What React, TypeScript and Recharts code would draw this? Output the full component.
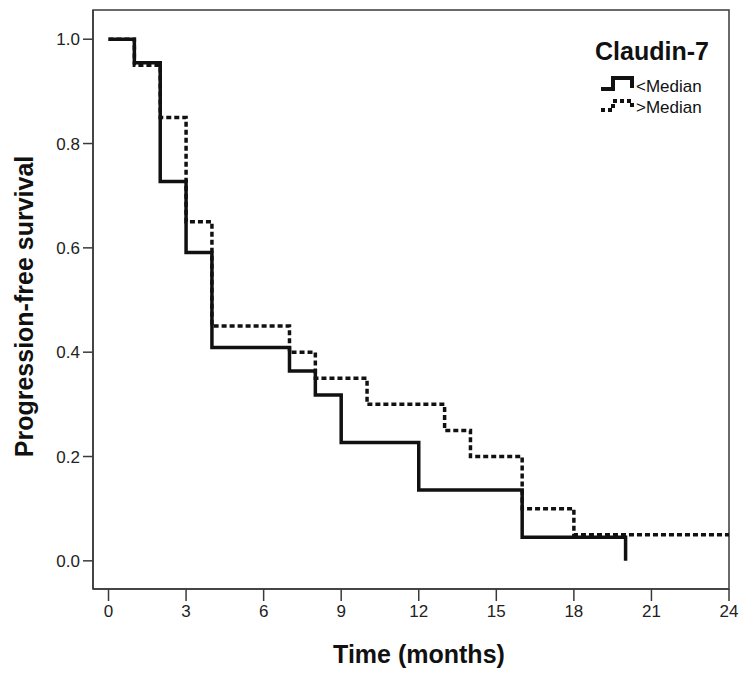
import React from 'react';
import { LineChart, Line, XAxis, YAxis, Legend, ReferenceArea } from 'recharts';

// Kaplan-Meier steps
const lowTimes = [0, 1, 2, 3, 4, 7, 8, 9, 12, 16, 20];
const lowSurvival = [1.0, 0.955, 0.727, 0.591, 0.409, 0.364, 0.318, 0.227, 0.136, 0.045, 0.0];
const highTimes = [0, 1, 2, 3, 4, 7, 8, 10, 13, 14, 16, 18, 24];
const highSurvival = [1.0, 0.95, 0.85, 0.65, 0.45, 0.4, 0.35, 0.3, 0.25, 0.2, 0.1, 0.05, 0.05];

const seriesNames = ['<Median', '>Median'];
const legendTitle = 'Claudin-7';
const xTicks = [0, 3, 6, 9, 12, 15, 18, 21, 24];
const yTicks = [0, 0.2, 0.4, 0.6, 0.8, 1.0];

const lowData = lowTimes.map((t, i) => ({ t, s: lowSurvival[i] }));
const highData = highTimes.map((t, i) => ({ t, s: highSurvival[i] }));

const FONT = 'Arial, "Liberation Sans", Helvetica, sans-serif';
const INK = '#111';
const AXIS = '#3a3a3a';

const renderLegend = () => (
    <svg width={140} height={95} style={{ overflow: 'visible', fontFamily: FONT }}>
        <text x={5} y={30} fontSize={25} fontWeight="bold" fill={INK}>{legendTitle}</text>
        <path d="M11,59 H23 V48 H42 V58" stroke={INK} strokeWidth={4} fill="none" />
        <text x={46} y={62} fontSize={17} fill={INK}>{seriesNames[0]}</text>
        <path d="M11,80 H23 V71 H42 V79" stroke={INK} strokeWidth={4} strokeDasharray="4 3" fill="none" />
        <text x={46} y={83} fontSize={17} fill={INK}>{seriesNames[1]}</text>
    </svg>
);

const YTitle = (props: any) => {
    const { viewBox } = props;
    const x = viewBox.x + 24;
    const y = viewBox.y + viewBox.height / 2 + 7;
    return (
        <text x={x} y={y} transform={`rotate(-90, ${x}, ${y})`} textAnchor="middle" dominantBaseline="central"
            fontSize={25} fontWeight="bold" fill={INK} fontFamily={FONT}>
            Progression-free survival
        </text>
    );
};

const XTitle = (props: any) => {
    const { viewBox } = props;
    return (
        <text x={viewBox.x + viewBox.width / 2 + 8} y={663} textAnchor="middle"
            fontSize={25} fontWeight="bold" fill={INK} fontFamily={FONT}>
            Time (months)
        </text>
    );
};

const App: React.FC = () => {
    return (
        <div style={{ position: 'absolute', left: 0, top: 0, background: '#fff' }}>
            <LineChart width={746} height={677} margin={{ top: 10, right: 17, left: 0, bottom: 0 }} style={{ fontFamily: FONT }}>
                <XAxis
                    dataKey="t"
                    type="number"
                    domain={[-0.6, 24]}
                    allowDataOverflow
                    ticks={xTicks}
                    interval={0}
                    height={88}
                    tickSize={12}
                    tickMargin={4}
                    stroke={AXIS}
                    axisLine={{ stroke: AXIS, strokeWidth: 1.5 }}
                    tickLine={{ stroke: AXIS, strokeWidth: 1.5 }}
                    tick={{ fill: '#222', fontSize: 17 }}
                    label={{ content: XTitle }}
                />
                <YAxis
                    type="number"
                    domain={[-0.054, 1.056]}
                    allowDataOverflow
                    ticks={yTicks}
                    interval={0}
                    width={93}
                    tickSize={10}
                    tickMargin={3}
                    tickFormatter={(v: number) => v.toFixed(1)}
                    stroke={AXIS}
                    axisLine={{ stroke: AXIS, strokeWidth: 1.5 }}
                    tickLine={{ stroke: AXIS, strokeWidth: 1.5 }}
                    tick={{ fill: '#222', fontSize: 17 }}
                    label={{ content: YTitle }}
                />
                <ReferenceArea x1={-0.6} x2={24} y1={-0.054} y2={1.056} fill="none" stroke={AXIS} strokeWidth={1.5} ifOverflow="visible" />
                <Legend layout="vertical" align="center" verticalAlign="middle" content={renderLegend}
                    wrapperStyle={{ left: 590, top: 30, width: 140, height: 95 }} />
                <Line data={highData} dataKey="s" name={seriesNames[1]} type="stepAfter" stroke={INK} strokeWidth={3.5}
                    strokeDasharray="5 3" dot={false} activeDot={false} isAnimationActive={false} legendType="none" />
                <Line data={lowData} dataKey="s" name={seriesNames[0]} type="stepAfter" stroke={INK} strokeWidth={3.5}
                    dot={false} activeDot={false} isAnimationActive={false} legendType="none" />
            </LineChart>
        </div>
    );
};

export default App;
